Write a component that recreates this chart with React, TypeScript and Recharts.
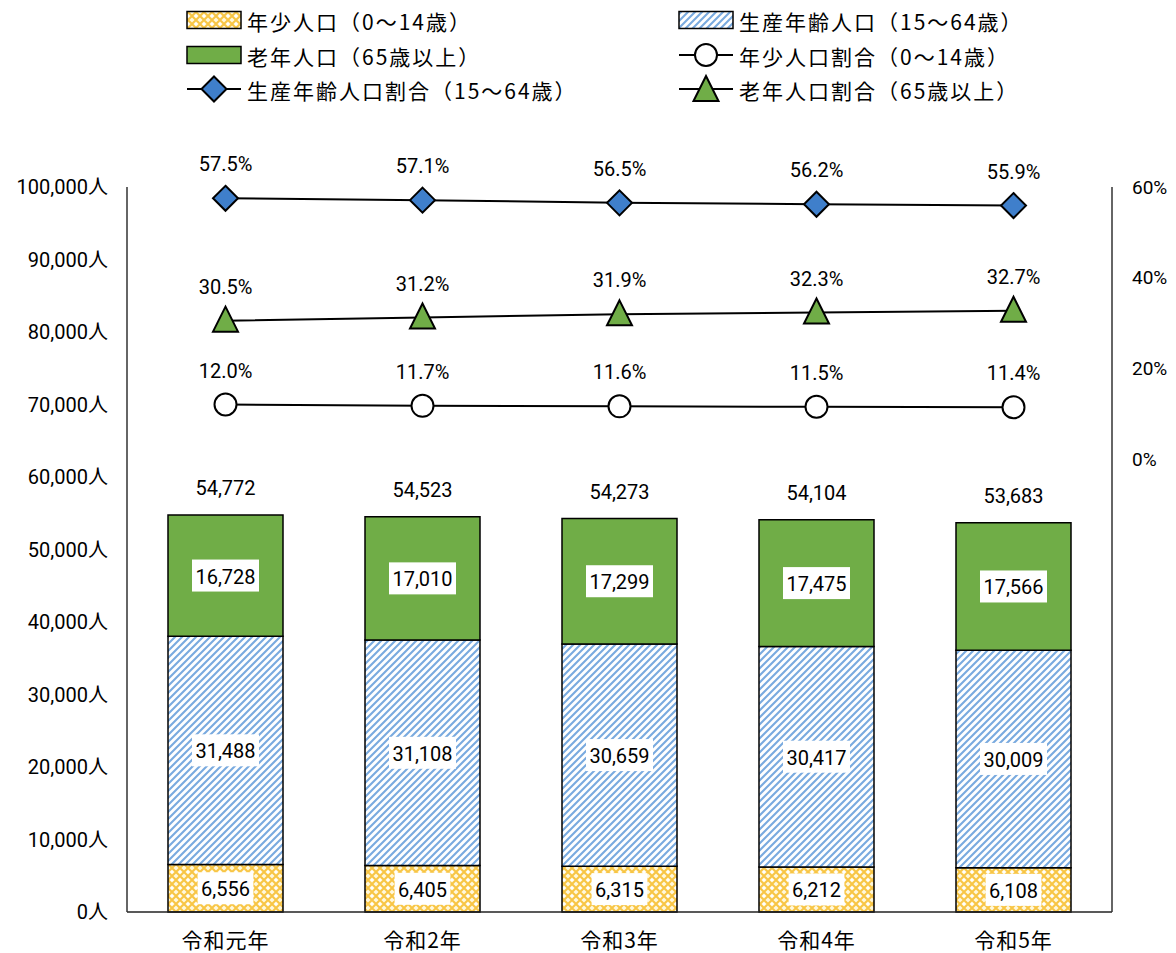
import React from "react";
import { ComposedChart, Bar, Line, XAxis, YAxis, LabelList } from "recharts";

const years = ["令和元年", "令和2年", "令和3年", "令和4年", "令和5年"];
const youth = [6556, 6405, 6315, 6212, 6108];
const working = [31488, 31108, 30659, 30417, 30009];
const elderly = [16728, 17010, 17299, 17475, 17566];
const totals = [54772, 54523, 54273, 54104, 53683];
const youthRate = [12.0, 11.7, 11.6, 11.5, 11.4];
const workingRate = [57.5, 57.1, 56.5, 56.2, 55.9];
const elderlyRate = [30.5, 31.2, 31.9, 32.3, 32.7];
const leftTicks = [0, 10000, 20000, 30000, 40000, 50000, 60000, 70000, 80000, 90000, 100000];
const rightTicks = [0, 20, 40, 60];

const data = years.map((name, i) => ({
  name,
  youth: youth[i],
  working: working[i],
  elderly: elderly[i],
  total: totals[i],
  youthRate: youthRate[i],
  workingRate: workingRate[i],
  elderlyRate: elderlyRate[i],
}));

const NUM_FONT = "Roboto, 'Noto Sans CJK JP', sans-serif";
const JP_FONT = "'Noto Sans CJK JP', sans-serif";
const GREEN = "#70AD47";
const BLUE = "#3F7FCB";

const fmt = (v: number) => v.toLocaleString("en-US");

// white box label in the middle of a bar segment
const BoxLabel = (props: any) => {
  const { x, y, width, height, value } = props;
  const text = fmt(Number(value));
  const digits = text.replace(/,/g, "").length;
  const commas = text.length - digits;
  const w = digits * 11.2 + commas * 4 + 7;
  const cx = Number(x) + Number(width) / 2;
  const cy = Number(y) + Number(height) / 2;
  return (
    <g>
      <rect x={cx - w / 2} y={cy - 16} width={w} height={32} fill="#fff" />
      <text x={cx} y={cy + 1} textAnchor="middle" dominantBaseline="central" fontSize={20} fontFamily={NUM_FONT} fill="#000">
        {text}
      </text>
    </g>
  );
};

const TotalLabel = (props: any) => {
  const { x, y, width, value } = props;
  return (
    <text x={Number(x) + Number(width) / 2} y={Number(y) - 27} textAnchor="middle" dominantBaseline="central" fontSize={20} fontFamily={NUM_FONT} fill="#000">
      {fmt(Number(value))}
    </text>
  );
};

const PctLabel = (props: any) => {
  const { x, y, value } = props;
  return (
    <text x={x} y={Number(y) - 34} textAnchor="middle" dominantBaseline="central" fontSize={20} fontFamily={NUM_FONT} fill="#000">
      {Number(value).toFixed(1)}%
    </text>
  );
};

const Diamond = ({ cx, cy }: { cx: number; cy: number }) => (
  <path d={`M${cx},${cy - 12.5} L${cx + 12.5},${cy} L${cx},${cy + 12.5} L${cx - 12.5},${cy} Z`} fill={BLUE} stroke="#000" strokeWidth={2} />
);
const Triangle = ({ cx, cy }: { cx: number; cy: number }) => (
  <path d={`M${cx},${cy - 14} L${cx + 12.5},${cy + 11} L${cx - 12.5},${cy + 11} Z`} fill={GREEN} stroke="#000" strokeWidth={2} />
);
const Circle = ({ cx, cy }: { cx: number; cy: number }) => (
  <circle cx={cx} cy={cy} r={11} fill="#fff" stroke="#000" strokeWidth={2} />
);

const XTick = (props: any) => {
  const { x, y, payload } = props;
  return (
    <text x={x} y={Number(y) + 27} textAnchor="middle" dominantBaseline="central" fontSize={21} letterSpacing={1} fontFamily={JP_FONT} fill="#000">
      {payload.value}
    </text>
  );
};

const legendItems = [
  { label: "年少人口（0〜14歳）", kind: "youth", x: 187, y: 20 },
  { label: "老年人口（65歳以上）", kind: "elderly", x: 187, y: 55 },
  { label: "生産年齢人口割合（15〜64歳）", kind: "workingRate", x: 187, y: 89 },
  { label: "生産年齢人口（15〜64歳）", kind: "working", x: 679, y: 20 },
  { label: "年少人口割合（0〜14歳）", kind: "youthRate", x: 679, y: 55 },
  { label: "老年人口割合（65歳以上）", kind: "elderlyRate", x: 679, y: 89 },
];

const LegendIcon = ({ kind, x, y }: { kind: string; x: number; y: number }) => {
  if (kind === "youth" || kind === "working" || kind === "elderly") {
    const fill = kind === "youth" ? "url(#youthPat)" : kind === "working" ? "url(#workPat)" : GREEN;
    return <rect x={x} y={y - 8.5} width={54} height={17} fill={fill} stroke="#000" strokeWidth={1.5} />;
  }
  const cx = x + 27;
  return (
    <g>
      <line x1={x} x2={x + 54} y1={y} y2={y} stroke="#000" strokeWidth={2} />
      {kind === "workingRate" && <Diamond cx={cx} cy={y} />}
      {kind === "youthRate" && <Circle cx={cx} cy={y} />}
      {kind === "elderlyRate" && <Triangle cx={cx} cy={y + 1} />}
    </g>
  );
};

export default function App() {
  return (
    <div style={{ position: "absolute", left: 0, top: 0, width: 1176, height: 953, background: "#fff", overflow: "hidden" }}>
      <ComposedChart width={1176} height={953} data={data} margin={{ top: 187, right: 10, bottom: 10, left: 10 }} barCategoryGap={0}>
        <defs>
          <pattern id="youthPat" patternUnits="userSpaceOnUse" width={8} height={8}>
            <rect width={8} height={8} fill="#FFF8DC" />
            <path d="M0,0 L8,8 M8,0 L0,8" stroke="#F8C544" strokeWidth={2} />
            <circle cx={4} cy={0} r={1.3} fill="#fff" />
            <circle cx={4} cy={8} r={1.3} fill="#fff" />
          </pattern>
          <pattern id="workPat" patternUnits="userSpaceOnUse" width={7} height={7}>
            <rect width={7} height={7} fill="#fff" />
            <path d="M-1,8 L8,-1 M-1,1 L1,-1 M6,8 L8,6" stroke="#79AADF" strokeWidth={2.1} />
          </pattern>
        </defs>
        <XAxis dataKey="name" tick={<XTick />} tickLine={false} tickSize={0} tickMargin={0} axisLine={{ stroke: "#222", strokeWidth: 1.5 }} height={31} />
        <YAxis
          yAxisId="left"
          domain={[0, 100000]}
          ticks={leftTicks}
          tickFormatter={(v: number) => `${fmt(v)}人`}
          tickLine={false}
          tickSize={0}
          tickMargin={19}
          axisLine={{ stroke: "#333", strokeWidth: 1.5 }}
          width={117}
          tick={{ fill: "#000", fontSize: 20, fontFamily: NUM_FONT }}
          interval={0}
        />
        <YAxis
          yAxisId="right"
          orientation="right"
          domain={[-100, 60]}
          ticks={rightTicks}
          tickFormatter={(v: number) => `${v}%`}
          tickLine={false}
          tickSize={0}
          tickMargin={20}
          axisLine={{ stroke: "#333", strokeWidth: 1.5 }}
          width={54}
          tick={{ fill: "#000", fontSize: 19, fontFamily: NUM_FONT }}
          interval={0}
        />
        <Bar yAxisId="left" dataKey="youth" stackId="pop" fill="url(#youthPat)" stroke="#000" strokeWidth={1.5} barSize={115} isAnimationActive={false}>
          <LabelList dataKey="youth" content={<BoxLabel />} />
        </Bar>
        <Bar yAxisId="left" dataKey="working" stackId="pop" fill="url(#workPat)" stroke="#000" strokeWidth={1.5} barSize={115} isAnimationActive={false}>
          <LabelList dataKey="working" content={<BoxLabel />} />
        </Bar>
        <Bar yAxisId="left" dataKey="elderly" stackId="pop" fill={GREEN} stroke="#000" strokeWidth={1.5} barSize={115} isAnimationActive={false}>
          <LabelList dataKey="elderly" content={<BoxLabel />} />
          <LabelList dataKey="total" content={<TotalLabel />} />
        </Bar>
        <Line
          yAxisId="right"
          dataKey="youthRate"
          stroke="#000"
          strokeWidth={2}
          isAnimationActive={false}
          dot={(p: any) => <Circle key={`yc${p.index}`} cx={p.cx} cy={p.cy} />}
        >
          <LabelList dataKey="youthRate" content={<PctLabel />} />
        </Line>
        <Line
          yAxisId="right"
          dataKey="workingRate"
          stroke="#000"
          strokeWidth={2}
          isAnimationActive={false}
          dot={(p: any) => <Diamond key={`wd${p.index}`} cx={p.cx} cy={p.cy} />}
        >
          <LabelList dataKey="workingRate" content={<PctLabel />} />
        </Line>
        <Line
          yAxisId="right"
          dataKey="elderlyRate"
          stroke="#000"
          strokeWidth={2}
          isAnimationActive={false}
          dot={(p: any) => <Triangle key={`et${p.index}`} cx={p.cx} cy={p.cy} />}
        >
          <LabelList dataKey="elderlyRate" content={<PctLabel />} />
        </Line>
      </ComposedChart>
      <svg width={1176} height={110} style={{ position: "absolute", left: 0, top: 0 }}>
        {legendItems.map((it) => (
          <g key={it.label}>
            <LegendIcon kind={it.kind} x={it.x} y={it.y} />
            <text x={it.x + 60} y={it.y + 1} dominantBaseline="central" fontSize={21} letterSpacing={2} fontFamily={JP_FONT} fill="#000">
              {it.label}
            </text>
          </g>
        ))}
      </svg>
    </div>
  );
}
